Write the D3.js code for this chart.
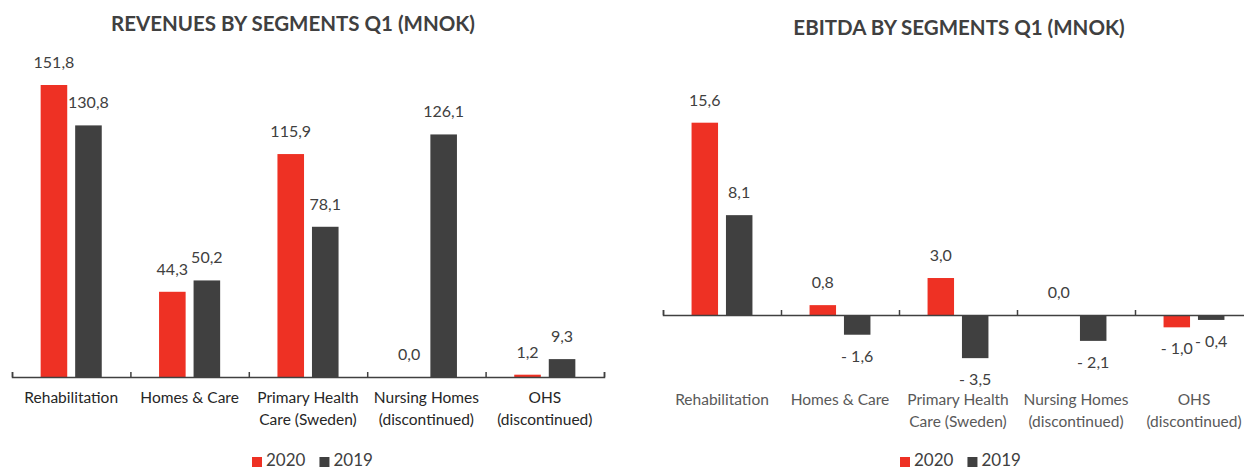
<!DOCTYPE html>
<html>
<head>
<meta charset="utf-8">
<script src="https://cdn.jsdelivr.net/npm/d3@7"></script>
<style>
  body { margin: 0; background: #fff; }
  svg { font-family: Lato, "Open Sans", sans-serif; }
</style>
</head>
<body>
<svg id="chart" width="1244" height="470"></svg>
<script>
const segments = [
  ["Rehabilitation"],
  ["Homes & Care"],
  ["Primary Health", "Care (Sweden)"],
  ["Nursing Homes", "(discontinued)"],
  ["OHS", "(discontinued)"]
];
const years = ["2020", "2019"];
const revenue2020 = [151.8, 44.3, 115.9, 0.0, 1.2];
const revenue2019 = [130.8, 50.2, 78.1, 126.1, 9.3];
const ebitda2020 = [15.6, 0.8, 3.0, 0.0, -1.0];
const ebitda2019 = [8.1, -1.6, -3.5, -2.1, -0.4];

const colors = { "2020": "#ee3124", "2019": "#404040" };
const svg = d3.select("#chart");

const fmt = v => {
  const s = Math.abs(v).toFixed(1).replace(".", ",");
  return v < 0 ? "- " + s : s;
};

function drawPanel(opts) {
  const g = svg.append("g");
  const keys = segments.map((d, i) => i);
  const x0 = d3.scaleBand().domain(keys).range(opts.xRange);
  const x1 = d3.scaleBand().domain(years).range([0, x0.bandwidth()])
    .paddingInner(0.23).paddingOuter(0.83);
  const y = d3.scaleLinear().domain(opts.yDomain).range(opts.yRange);
  const series = { "2020": opts.v2020, "2019": opts.v2019 };

  g.append("text")
    .attr("x", opts.titleX).attr("y", opts.titleY)
    .attr("text-anchor", "middle").attr("dominant-baseline", "middle")
    .attr("font-weight", "bold").attr("font-size", 20.5)
    .attr("fill", "#404040")
    .text(opts.title);

  const groups = g.selectAll("g.seg").data(keys).join("g")
    .attr("class", "seg")
    .attr("transform", d => `translate(${x0(d)},0)`);

  years.forEach(yr => {
    groups.append("rect")
      .attr("x", x1(yr))
      .attr("width", x1.bandwidth())
      .attr("y", d => y(Math.max(0, series[yr][d])))
      .attr("height", d => Math.abs(y(series[yr][d]) - y(0)))
      .attr("fill", colors[yr]);
    groups.append("text")
      .attr("x", x1(yr) + x1.bandwidth() / 2)
      .attr("y", d => series[yr][d] < 0 ? y(series[yr][d]) + 23 : y(series[yr][d]) - 21)
      .attr("text-anchor", "middle").attr("dominant-baseline", "middle")
      .attr("font-size", 16).attr("fill", "#404040")
      .text(d => fmt(series[yr][d]));
  });

  // baseline with upward ticks
  const axis = d3.axisTop(d3.scaleLinear().domain([0, keys.length]).range(opts.xRange))
    .ticks(keys.length).tickSize(5).tickFormat("");
  g.append("g").attr("transform", `translate(0,${y(0)})`).call(axis)
    .call(a => a.selectAll("line,path").attr("stroke", "#404040").attr("stroke-width", 1.5));

  // category labels
  g.selectAll("text.cat").data(keys).join("text")
    .attr("class", "cat")
    .attr("x", d => x0(d) + x0.bandwidth() / 2)
    .attr("y", opts.catY)
    .attr("text-anchor", "middle").attr("font-size", 15.5)
    .attr("fill", opts.catColor)
    .selectAll("tspan").data(d => segments[d]).join("tspan")
    .attr("x", function () { return this.parentNode.getAttribute("x"); })
    .attr("dy", (d, i) => i === 0 ? "0.35em" : "22px")
    .text(d => d);

  // legend
  const lg = g.append("g").attr("transform", `translate(${opts.legendX},462)`);
  let cx = 0;
  years.forEach(yr => {
    lg.append("rect").attr("x", cx).attr("y", -5).attr("width", 10).attr("height", 10)
      .attr("fill", colors[yr]);
    const t = lg.append("text").attr("x", cx + 14).attr("y", 0)
      .attr("dominant-baseline", "middle").attr("font-size", 17).attr("fill", "#404040")
      .text(yr);
    cx += 14 + t.node().getComputedTextLength() + 14;
  });
}

drawPanel({
  title: "REVENUES BY SEGMENTS Q1 (MNOK)", titleX: 293, titleY: 26,
  xRange: [12, 604], yDomain: [0, 151.8], yRange: [377, 85],
  v2020: revenue2020, v2019: revenue2019,
  catY: 398, catColor: "#262626", legendX: 252
});

drawPanel({
  title: "EBITDA BY SEGMENTS Q1 (MNOK)", titleX: 959, titleY: 30,
  xRange: [663, 1253], yDomain: [0, 15.6], yRange: [315, 122.7],
  v2020: ebitda2020, v2019: ebitda2019,
  catY: 400, catColor: "#595959", legendX: 900
});
</script>
</body>
</html>
